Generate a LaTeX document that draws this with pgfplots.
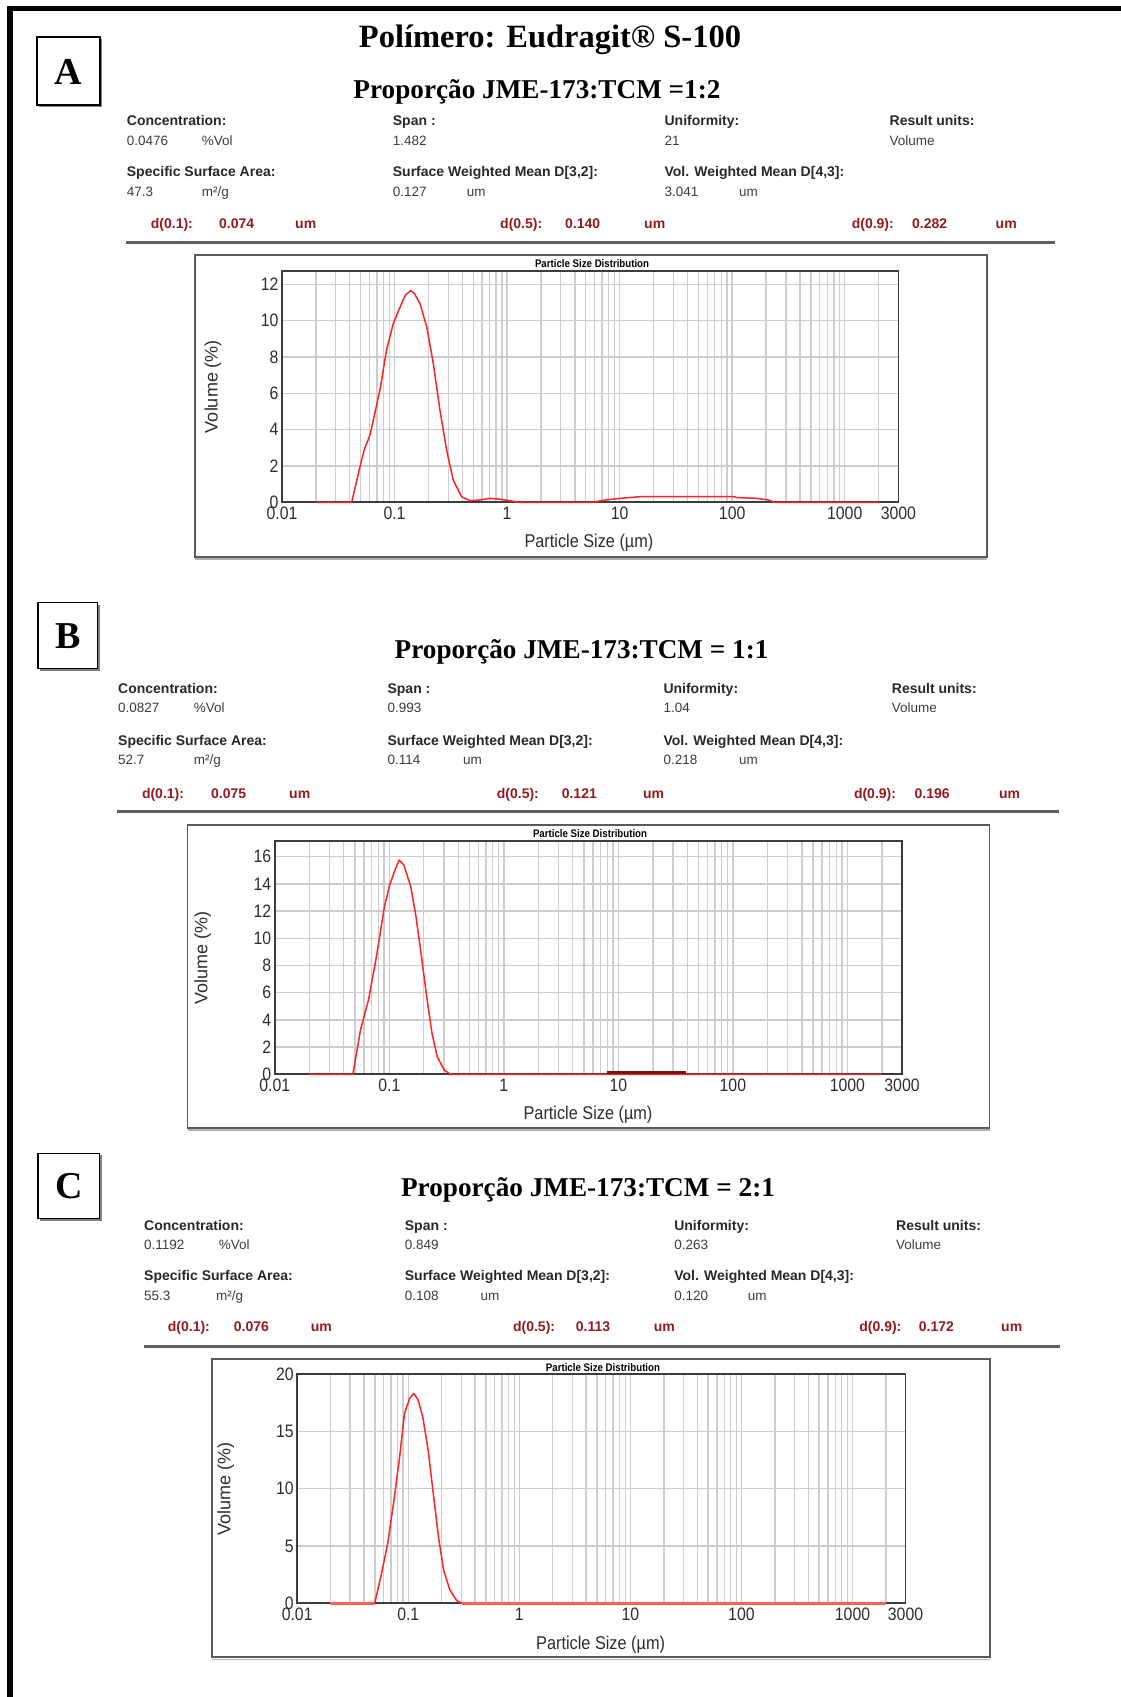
\documentclass[border=0pt]{standalone}
\usepackage{fontspec}
\setmainfont{Liberation Serif}
\newfontfamily\arial{Liberation Sans}
\newfontfamily\arialn[FakeStretch=0.88]{Liberation Sans}
\usepackage{pgfplots}
\pgfplotsset{compat=1.18}

\definecolor{gridc}{RGB}{205,205,205}
\definecolor{axisc}{RGB}{60,60,60}
\definecolor{tickc}{RGB}{45,45,45}
\definecolor{labc}{RGB}{40,40,40}
\definecolor{valc}{RGB}{60,60,60}
\definecolor{redc}{RGB}{150,25,30}
\definecolor{curvec}{RGB}{255,35,35}
\definecolor{zeroc}{RGB}{255,95,95}
\definecolor{boxc}{RGB}{90,90,90}
\definecolor{sepc}{RGB}{95,95,95}

\newcommand\Lb[3]{\node[anchor=base west,inner sep=0pt,text=labc,font=\arial\bfseries\fontsize{14}{14}\selectfont] at (#1,-#2) {#3};}
\newcommand\Vl[3]{\node[anchor=base west,inner sep=0pt,text=valc,font=\arial\fontsize{13.5}{13.5}\selectfont] at (#1,-#2) {#3};}
\newcommand\Rd[3]{\node[anchor=base west,inner sep=0pt,text=redc,font=\arial\bfseries\fontsize{14}{14}\selectfont] at (#1,-#2) {#3};}

\pgfplotsset{every axis/.append style={
  scale only axis, anchor=south west, clip=false,
  xmin=0.01, xmax=3000, ymin=0,
  xtick={0.01,0.1,1,10,100,1000,3000},
  xticklabels={0.01,0.1,1,10,100,1000,3000},
  minor xtick={0.02,0.03,0.04,0.05,0.06,0.07,0.08,0.09,0.2,0.3,0.4,0.5,0.6,0.7,0.8,0.9,2,3,4,5,6,7,8,9,20,30,40,50,60,70,80,90,200,300,400,500,600,700,800,900,2000},
  grid=both,
  major grid style={draw=gridc,line width=1.4pt},
  minor grid style={draw=gridc,line width=1.4pt},
  major tick length=0pt, minor tick length=0pt,
  axis line style={draw=axisc,line width=1.8pt},
  tick label style={font=\arialn\fontsize{18}{18}\selectfont,text=tickc},
  xticklabel style={yshift=-1.5pt},
  xlabel={Particle Size (µm)},
  ylabel={Volume (\%)},
  title={Particle Size Distribution},
  xlabel style={font=\arialn\fontsize{18.5}{18.5}\selectfont,text=tickc,anchor=center},
  ylabel style={font=\arial\fontsize{18}{18}\selectfont,text=tickc,anchor=center},
  title style={font=\arialn\bfseries\fontsize{11}{11}\selectfont,text=black,anchor=center},
}}

\begin{document}
\begin{tikzpicture}[x=1pt,y=1pt]
\useasboundingbox (0,-1697) rectangle (1121,0);

% outer frame
\draw[line width=5.5pt] (7,-8.5) -- (1121,-8.5);
\draw[line width=6pt] (10.3,-5.75) -- (10.3,-1697);

% ================= A =================
\draw[gray,line width=1.5pt] (39,-106.5) -- (101.5,-106.5) -- (101.5,-39);
\draw[line width=1.5pt] (37,-37) rectangle (100,-105);
\node[font=\bfseries\fontsize{38}{38}\selectfont] at (68.5,-71.5) {A};
\node[anchor=base,font=\bfseries\fontsize{32.5}{32.5}\selectfont] at (550,-47.5) {Polímero: Eudragit® S-100};
\node[anchor=base,font=\bfseries\fontsize{27.2}{27.2}\selectfont] at (537,-98) {Proporção JME-173:TCM =1:2};

\Lb{126.7}{125}{Concentration:}
\Vl{126.7}{145}{0.0476} \Vl{201.7}{145}{\%Vol}
\Lb{392.7}{125}{Span :} \Vl{392.7}{145}{1.482}
\Lb{664.4}{125}{Uniformity:} \Vl{664.4}{145}{21}
\Lb{889.5}{125}{Result units:} \Vl{889.5}{145}{Volume}
\Lb{126.7}{176}{Specific Surface Area:} \Vl{126.7}{196}{47.3} \Vl{201.7}{196}{m²/g}
\Lb{392.7}{176}{Surface Weighted Mean D[3,2]:} \Vl{392.7}{196}{0.127} \Vl{466.7}{196}{um}
\Lb{664.4}{176}{Vol. Weighted Mean D[4,3]:} \Vl{664.4}{196}{3.041} \Vl{739}{196}{um}
\Rd{150.7}{228.3}{d(0.1):} \Rd{219}{228.3}{0.074} \Rd{295}{228.3}{um}
\Rd{500}{228.3}{d(0.5):} \Rd{565}{228.3}{0.140} \Rd{644}{228.3}{um}
\Rd{851.6}{228.3}{d(0.9):} \Rd{912}{228.3}{0.282} \Rd{995.5}{228.3}{um}
\draw[sepc,line width=3pt] (125.5,-242) -- (1055,-242);

\draw[boxc,line width=1.5pt] (195,-255) rectangle (987,-557);
\draw[gray!60,line width=1.2pt] (195,-559) -- (987,-559);

\begin{semilogxaxis}[at={(282pt,-502.3pt)}, width=616.4pt, height=231.6pt, ymax=12.75,
  ytick={0,2,4,6,8,10,12}, yticklabels={0,2,4,6,8,10,12},
  xlabel style={at={(axis description cs:0.498,-0.1757)}},
  ylabel style={at={(axis description cs:-0.112,0.5)}},
  title style={at={(axis description cs:0.503,1.004)}}]
\addplot[curvec,line width=1.5pt,line join=round] coordinates {
(0.02,0) (0.0416,0) (0.0493,1.96) (0.0537,2.88) (0.0605,3.7) (0.0742,6.18) (0.085,8.39)
(0.0975,9.85) (0.1156,10.95) (0.125,11.41) (0.139,11.65) (0.150,11.5) (0.168,10.95)
(0.193,9.67) (0.221,7.65) (0.253,5.08) (0.290,2.88) (0.332,1.23) (0.394,0.31)
(0.468,0.09) (0.578,0.13) (0.705,0.22) (0.86,0.17) (1.05,0.09) (1.28,0) (5.6,0)
(7.6,0.13) (10.2,0.22) (15.1,0.31) (104,0.31) (110,0.26) (163,0.22) (208,0.13) (240,0) (2000,0)};
\end{semilogxaxis}

% ================= B =================
\draw[gray,line width=1.5pt] (40,-670.2) -- (98.9,-670.2) -- (98.9,-604.5);
\draw[line width=1.5pt] (38,-602.7) rectangle (97.4,-668.7);
\node[font=\bfseries\fontsize{38}{38}\selectfont] at (67.7,-636) {B};
\node[anchor=base,font=\bfseries\fontsize{27.2}{27.2}\selectfont] at (581.6,-658.3) {Proporção JME-173:TCM = 1:1};

\Lb{118}{693}{Concentration:}
\Vl{118}{712.6}{0.0827} \Vl{193.7}{712.6}{\%Vol}
\Lb{387.4}{693}{Span :} \Vl{387.4}{712.6}{0.993}
\Lb{663.3}{693}{Uniformity:} \Vl{663.3}{712.6}{1.04}
\Lb{891.7}{693}{Result units:} \Vl{891.7}{712.6}{Volume}
\Lb{118}{745}{Specific Surface Area:} \Vl{118}{764.5}{52.7} \Vl{193.7}{764.5}{m²/g}
\Lb{387.4}{745}{Surface Weighted Mean D[3,2]:} \Vl{387.4}{764.5}{0.114} \Vl{463}{764.5}{um}
\Lb{663.3}{745}{Vol. Weighted Mean D[4,3]:} \Vl{663.3}{764.5}{0.218} \Vl{739}{764.5}{um}
\Rd{141.8}{798}{d(0.1):} \Rd{211}{798}{0.075} \Rd{289}{798}{um}
\Rd{496.7}{798}{d(0.5):} \Rd{561.6}{798}{0.121} \Rd{642.8}{798}{um}
\Rd{853.8}{798}{d(0.9):} \Rd{914.4}{798}{0.196} \Rd{998.8}{798}{um}
\draw[sepc,line width=3pt] (117,-811.6) -- (1059,-811.6);

\draw[boxc,line width=1.5pt] (187.5,-825) rectangle (989.5,-1128);
\draw[gray!60,line width=1.2pt] (187.5,-1130) -- (989.5,-1130);

\begin{semilogxaxis}[at={(274.8pt,-1074.3pt)}, width=627.2pt, height=233.6pt, ymax=17.18,
  ytick={0,2,4,6,8,10,12,14,16}, yticklabels={0,2,4,6,8,10,12,14,16},
  xlabel style={at={(axis description cs:0.4994,-0.1742)}},
  ylabel style={at={(axis description cs:-0.1148,0.5)}},
  title style={at={(axis description cs:0.5026,1.0064)}}]
\addplot[curvec,line width=1.5pt,line join=round] coordinates {
(0.0198,0) (0.048,0) (0.056,3.26) (0.0658,5.47) (0.0772,8.65) (0.0906,12.33) (0.1007,13.92)
(0.112,15.02) (0.122,15.76) (0.134,15.39) (0.154,13.8) (0.171,11.6) (0.191,8.65)
(0.212,5.71) (0.236,3.01) (0.262,1.30) (0.301,0.32) (0.343,0) (2000,0)};
\addplot[redc!80!black,line width=3pt] coordinates {(7.9,0.1) (39,0.1)};
\end{semilogxaxis}

% ================= C =================
\draw[gray,line width=1.5pt] (40,-1219.9) -- (101.1,-1219.9) -- (101.1,-1155);
\draw[line width=1.5pt] (38,-1153.5) rectangle (99.6,-1218.4);
\node[font=\bfseries\fontsize{38}{38}\selectfont] at (68.8,-1186.5) {C};
\node[anchor=base,font=\bfseries\fontsize{27.2}{27.2}\selectfont] at (588,-1196) {Proporção JME-173:TCM = 2:1};

\Lb{144}{1230}{Concentration:}
\Vl{144}{1249.3}{0.1192} \Vl{218.6}{1249.3}{\%Vol}
\Lb{404.7}{1230}{Span :} \Vl{404.7}{1249.3}{0.849}
\Lb{674.1}{1230}{Uniformity:} \Vl{674.1}{1249.3}{0.263}
\Lb{896}{1230}{Result units:} \Vl{896}{1249.3}{Volume}
\Lb{144}{1280.7}{Specific Surface Area:} \Vl{144}{1300.2}{55.3} \Vl{216}{1300.2}{m²/g}
\Lb{404.7}{1280.7}{Surface Weighted Mean D[3,2]:} \Vl{404.7}{1300.2}{0.108} \Vl{480.5}{1300.2}{um}
\Lb{674.1}{1280.7}{Vol. Weighted Mean D[4,3]:} \Vl{674.1}{1300.2}{0.120} \Vl{747.7}{1300.2}{um}
\Rd{167.7}{1331}{d(0.1):} \Rd{233.7}{1331}{0.076} \Rd{310.6}{1331}{um}
\Rd{512.9}{1331}{d(0.5):} \Rd{575.7}{1331}{0.113} \Rd{653.6}{1331}{um}
\Rd{859.2}{1331}{d(0.9):} \Rd{918.7}{1331}{0.172} \Rd{1001}{1331}{um}
\draw[sepc,line width=3pt] (144,-1346) -- (1060,-1346);

\draw[boxc,line width=1.5pt] (212,-1359) rectangle (990,-1657);
\draw[gray!60,line width=1.2pt] (212,-1659.5) -- (990,-1659.5);

\begin{semilogxaxis}[at={(297.2pt,-1603.3pt)}, width=608.3pt, height=229.3pt, ymax=20,
  ytick={0,5,10,15,20}, yticklabels={0,5,10,15,20},
  xlabel style={at={(axis description cs:0.4988,-0.1819)}},
  ylabel style={at={(axis description cs:-0.1177,0.5)}},
  title style={at={(axis description cs:0.5027,1.0035)}}]
\addplot[zeroc,line width=2.5pt] coordinates {(0.0198,0) (0.0498,0)};
\addplot[zeroc,line width=2.5pt] coordinates {(0.305,0) (2000,0)};
\addplot[curvec,line width=1.5pt,line join=round] coordinates {
(0.0498,0) (0.0567,2.33) (0.0653,5.23) (0.0744,9.01) (0.083,12.5) (0.0925,16.57)
(0.103,17.88) (0.112,18.31) (0.122,17.79) (0.135,16.28) (0.151,13.37) (0.168,9.59)
(0.187,5.81) (0.208,2.91) (0.237,1.16) (0.273,0.23) (0.305,0)};
\end{semilogxaxis}
\end{tikzpicture}
\end{document}
